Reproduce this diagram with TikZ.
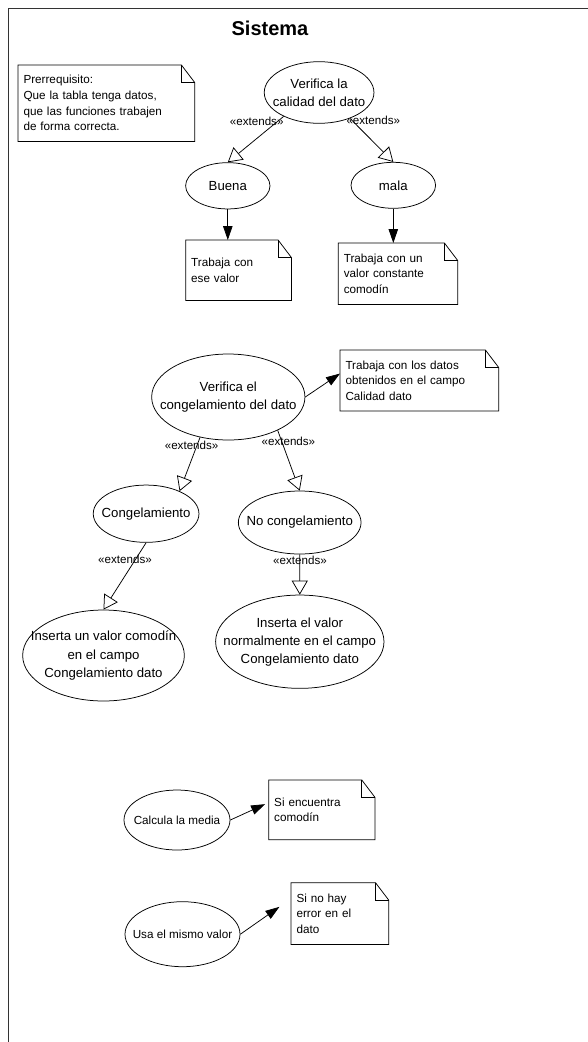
\documentclass[tikz,border=0pt]{standalone}
\usepackage{fontspec}
\setmainfont{Liberation Sans}
\usetikzlibrary{arrows.meta,shapes.geometric}

% outline of a UML note with a folded top-right corner
\newcommand\drawnote[1]{%
  \draw[thinline] (#1.north west) -- ([xshift=-13.3pt]#1.north east)
    -- ([yshift=-17.5pt]#1.north east) -- (#1.south east)
    -- (#1.south west) -- cycle;
  \draw[thinline] ([xshift=-13.3pt]#1.north east) |- ([yshift=-17.5pt]#1.north east);}

\begin{document}
\begin{tikzpicture}[x=1pt,y=-1pt,
  every node/.style={inner sep=0pt},
  thinline/.style={line width=0.75pt},
  % use-case ellipses keep their given size; the name is set as a centred label
  usecase/.style={ellipse, draw, thinline},
  uctext/.style={align=center, font=\fontsize{13.2}{18}\selectfont},
  smalltext/.style={align=center, font=\fontsize{11.7}{15.5}\selectfont},
  note/.style={anchor=north west, align=left, inner xsep=5.3pt, inner ysep=0pt,
    font=\fontsize{11.7}{15.6}\selectfont},
  stereo/.style={font=\fontsize{11.6}{14}\selectfont},
  extends/.style={thinline, -{Triangle[open, length=14pt, width=16pt]}},
  attach/.style={thinline, -{Triangle[length=14pt, width=9.5pt]}},
]
\useasboundingbox (0,0) rectangle (588,1042);
\fill[white] (0,0) rectangle (588,1042);

% system boundary
\draw[line width=0.9pt, black!80] (588,8) -- (8.7,8) -- (8.7,1042);
\node[anchor=base, font=\fontsize{20}{22}\selectfont\bfseries] (title) at (270,35) {Sistema};

% prerequisite note
\node[note, text width=165.7pt, minimum height=76pt] (npre) at (18,65)
  {Prerrequisito:\\Que la tabla tenga datos,\\que las funciones trabajen\\de forma correcta.};
\drawnote{npre}

% data quality check
\node[usecase, minimum width=109.7pt, minimum height=61.6pt,
  label={[uctext]center:{Verifica la\\calidad del dato}}] (v1) at (319.1,92.5) {};
\node[usecase, minimum width=84.4pt, minimum height=46.3pt,
  label={[uctext]center:Buena}] (buena) at (227.8,185.8) {};
\node[usecase, minimum width=84.6pt, minimum height=46pt,
  label={[uctext]center:mala}] (mala) at (393.3,185.3) {};
\draw[extends] (v1.214) -- (buena.north);
\draw[extends] (v1.-40) -- (mala.north);
\node[stereo] (s1) at (256.7,121) {«extends»};
\node[stereo] (s2) at (373.3,120) {«extends»};

\node[note, text width=94.7pt, minimum height=60pt] (nbuena) at (185.7,240)
  {Trabaja con\\ese valor};
\drawnote{nbuena}
\node[note, text width=108.4pt, minimum height=61pt] (nmala) at (338.3,243)
  {Trabaja con un\\valor constante\\comodín};
\drawnote{nmala}
\draw[attach] (buena.south) -- (buena.south |- nbuena.north);
\draw[attach] (mala.south) -- (mala.south |- nmala.north);

% freezing check
\node[usecase, minimum width=153.3pt, minimum height=86pt,
  label={[uctext]center:{Verifica el\\congelamiento del dato}}] (v2) at (228.3,397) {};
\node[note, text width=147.7pt, minimum height=60.7pt] (ndatos) at (340,350)
  {Trabaja con los datos\\obtenidos en el campo\\Calidad dato};
\drawnote{ndatos}
\draw[attach] (v2.east) -- ([yshift=7pt]ndatos.west);

\node[usecase, minimum width=105.7pt, minimum height=57.3pt,
  label={[uctext]center:Congelamiento}] (cong) at (146.1,513.7) {};
\node[usecase, minimum width=122.7pt, minimum height=63pt,
  label={[uctext]center:No congelamiento}] (nocong) at (299.7,522.5) {};
\draw[extends] (v2.235) -- (cong.34);
\draw[extends] (v2.-34) -- (nocong.north);
\node[stereo] (s3) at (191.6,445) {«extends»};
\node[stereo] (s4) at (288.4,441.7) {«extends»};

\node[usecase, minimum width=161.7pt, minimum height=91pt,
  label={[uctext]center:{Inserta un valor comodín\\en el campo\\Congelamiento dato}}] (ins1) at (103.5,655.5) {};
\node[usecase, minimum width=168.4pt, minimum height=93.3pt,
  label={[uctext]center:{Inserta el valor\\normalmente en el campo\\Congelamiento dato}}] (ins2) at (299.8,641.7) {};
\draw[extends] (cong.south) -- (ins1.north);
\draw[extends] (nocong.south) -- (ins2.north);
\node[stereo] (s5) at (125,559.3) {«extends»};
\node[stereo] (s6) at (300,560) {«extends»};

% mean and value use
\node[usecase, minimum width=106pt, minimum height=60pt,
  label={[smalltext]center:Calcula la media}] (calc) at (177,820) {};
\node[note, text width=95.4pt, minimum height=59.3pt] (nenc) at (268.7,780)
  {Si encuentra\\comodín};
\drawnote{nenc}
\draw[attach] (calc.east) -- ([xshift=-3.6pt,yshift=5.7pt]nenc.west);

\node[usecase, minimum width=115pt, minimum height=65pt,
  label={[smalltext]center:Usa el mismo valor}] (usa) at (182.5,934.2) {};
\node[note, text width=86.8pt, minimum height=61.3pt] (nhay) at (291,882.7)
  {Si no hay\\error en el\\dato};
\drawnote{nhay}
\draw[attach] (usa.east) -- ([xshift=-11.6pt,yshift=6.7pt]nhay.west);
\end{tikzpicture}
\end{document}
